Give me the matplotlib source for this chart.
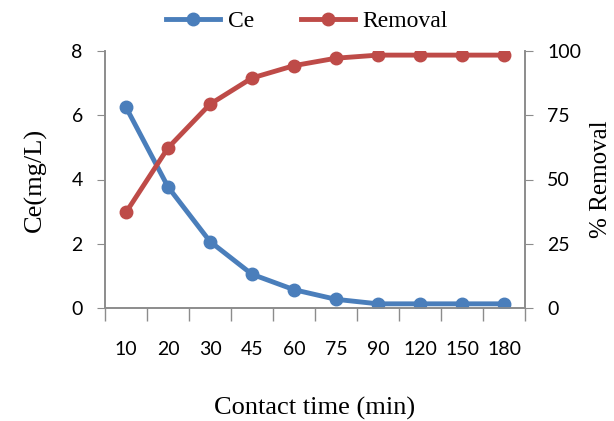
import matplotlib.pyplot as plt
import numpy as np

times = ['10', '20', '30', '45', '60', '75', '90', '120', '150', '180']
ce = [6.25, 3.77, 2.07, 1.05, 0.57, 0.27, 0.13, 0.13, 0.13, 0.13]
removal = [37.2, 62.3, 79.3, 89.5, 94.3, 97.2, 98.4, 98.4, 98.4, 98.4]

blue = '#4a7ebb'
red = '#be4b48'
grey = '#8c8c8c'
serif = 'Liberation Serif'
tickfont = 'Lato'

fig = plt.figure(figsize=(6.14, 4.21), dpi=100)
ax = fig.add_axes([105/614, (421-308)/421, 420/614, 257/421])
ax2 = ax.twinx()

x = np.arange(len(times))
l1, = ax.plot(x, ce, '-o', color=blue, lw=3.5, ms=9, label='Ce', zorder=3)
l2, = ax2.plot(x, removal, '-o', color=red, lw=3.5, ms=9, label='Removal', zorder=3)

ax.set_xlim(-0.5, len(times) - 0.5)
ax.set_ylim(0, 8)
ax.set_yticks([0, 2, 4, 6, 8])
ax2.set_ylim(0, 100)
ax2.set_yticks([0, 25, 50, 75, 100])

ax.set_xticks(x)
ax.set_xticklabels(times, fontsize=14, fontfamily=tickfont)
ax.set_xticks(np.arange(-0.5, len(times)), minor=True)
ax.tick_params(axis='x', which='major', length=0, pad=24)
ax.tick_params(axis='x', which='minor', length=9, color=grey, width=1)
ax.tick_params(axis='y', length=6, color=grey, labelsize=14, pad=10)
ax2.tick_params(axis='y', length=6, color=grey, labelsize=14, pad=10)
for lab in ax.get_yticklabels() + ax2.get_yticklabels():
    lab.set_fontfamily(tickfont)

for a in (ax, ax2):
    a.spines['top'].set_visible(False)
    for s in ('left', 'right', 'bottom'):
        a.spines[s].set_color(grey)
        a.spines[s].set_linewidth(1.2)

ax.set_ylabel('Ce(mg/L)', fontsize=19, fontfamily=serif, labelpad=18)
ax2.set_ylabel('% Removal', fontsize=18, fontfamily=serif, labelpad=6)
ax.set_xlabel('Contact time (min)', fontsize=19, fontfamily=serif, labelpad=28)

fig.legend(handles=[l1, l2], loc='upper center', bbox_to_anchor=(0.5, 1.025), ncol=2,
           frameon=False, prop={'family': serif, 'size': 17}, handlelength=2.3,
           columnspacing=2.0, handletextpad=0.3)

fig.savefig('out.png', dpi=100)
